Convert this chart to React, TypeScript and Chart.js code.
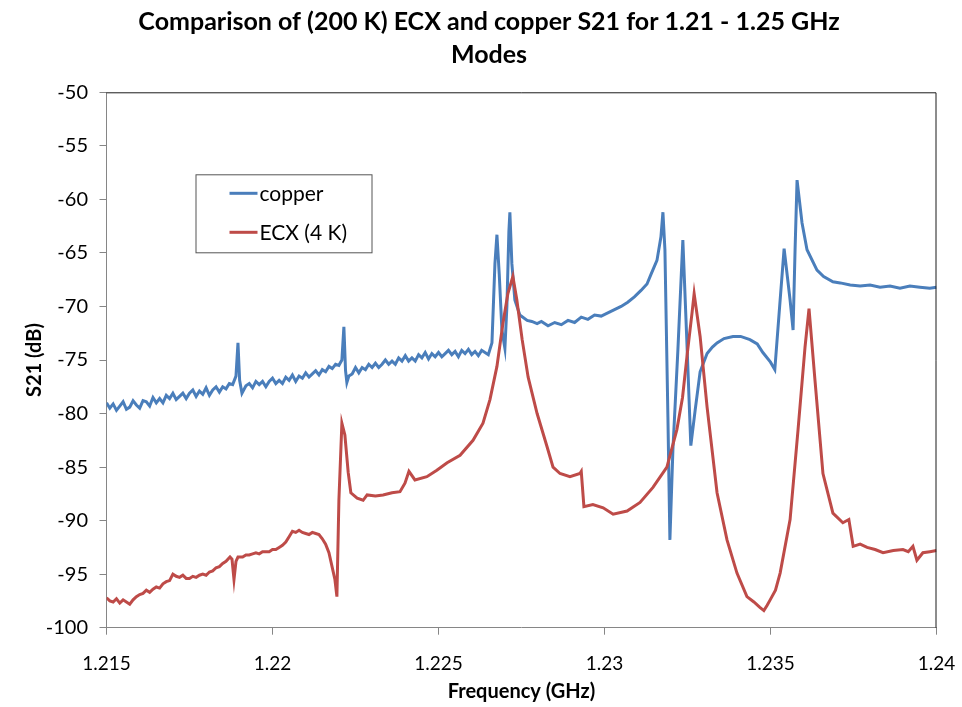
import React, { useEffect, useRef } from "react";
import { Chart, registerables } from "chart.js";

Chart.register(...registerables);

const titleLines = ["Comparison of (200 K) ECX and copper S21 for 1.21 - 1.25 GHz", "Modes"];
const xAxisTitle = "Frequency (GHz)";
const yAxisTitle = "S21 (dB)";
const seriesNames = ["copper", "ECX (4 K)"];
const seriesColors = ["#4A7EBB", "#BE4B48"];
const xTickValues = [1.215, 1.22, 1.225, 1.23, 1.235, 1.24];
const xTickLabels = ["1.215", "1.22", "1.225", "1.23", "1.235", "1.24"];
const yTickValues = [-100, -95, -90, -85, -80, -75, -70, -65, -60, -55, -50];

const copperFreq = [
  1.2150, 1.2151, 1.2152, 1.2153, 1.2154, 1.2155, 1.2156, 1.2157, 1.2158, 1.2159,
  1.2160, 1.2161, 1.2162, 1.2163, 1.2164, 1.2165, 1.2166, 1.2167, 1.2168, 1.2169,
  1.2170, 1.2171, 1.2172, 1.2173, 1.2174, 1.2175, 1.2176, 1.2177, 1.2178, 1.2179,
  1.2180, 1.2181, 1.2182, 1.2183, 1.2184, 1.2185, 1.2186, 1.2187, 1.2188, 1.21890,
  1.21896, 1.21901, 1.21908, 1.2192, 1.2193, 1.2194, 1.2195, 1.2196, 1.2197, 1.2198,
  1.2199, 1.2200, 1.2201, 1.2202, 1.2203, 1.2204, 1.2205, 1.2206, 1.2207, 1.2208,
  1.2209, 1.2210, 1.2211, 1.2212, 1.2213, 1.2214, 1.2215, 1.2216, 1.2217, 1.2218,
  1.2219, 1.2220, 1.22209, 1.22215, 1.22220, 1.22224, 1.2223, 1.2224, 1.2225, 1.2226,
  1.2227, 1.2228, 1.2229, 1.2230, 1.2231, 1.2232, 1.2233, 1.2234, 1.2235, 1.2236,
  1.2237, 1.2238, 1.2239, 1.2240, 1.2241, 1.2242, 1.2243, 1.2244, 1.2245, 1.2246,
  1.2247, 1.2248, 1.2249, 1.2250, 1.2251, 1.2252, 1.2253, 1.2254, 1.2255, 1.2256,
  1.2257, 1.2258, 1.2259, 1.2260, 1.2261, 1.2262, 1.2263, 1.2264, 1.2265,
  1.22661, 1.22670, 1.22676, 1.22683, 1.22691, 1.22700, 1.22706, 1.22712, 1.22715, 1.22721,
  1.22730, 1.22745, 1.22767, 1.22781, 1.22797, 1.2281, 1.2283, 1.2285, 1.2287, 1.2289,
  1.2291, 1.2293, 1.2295, 1.2297, 1.2299, 1.2301, 1.2303, 1.2305, 1.2307, 1.2309,
  1.2311, 1.23128, 1.2314, 1.23158, 1.2317, 1.23176,
  1.23182, 1.23191, 1.23197, 1.23206, 1.23221, 1.23236, 1.23249, 1.23260, 1.23273, 1.23288,
  1.23309, 1.23325, 1.23339, 1.2336, 1.23387, 1.2341, 1.23438, 1.2346, 1.23477, 1.2350, 1.23513,
  1.23529, 1.23541, 1.23559, 1.23568, 1.23574, 1.23580, 1.23595, 1.2361, 1.2364, 1.2366,
  1.23688, 1.2371, 1.2374, 1.2377, 1.2380, 1.2383, 1.2386, 1.2389, 1.2392, 1.2395,
  1.2398, 1.2400,
];
const copperS21 = [
  -79.0, -79.5, -79.1, -79.7, -79.3, -78.9, -79.6, -79.4, -78.8, -79.2,
  -79.5, -78.8, -78.9, -79.3, -78.5, -79.0, -78.6, -79.0, -78.3, -78.6,
  -78.1, -78.7, -78.4, -78.1, -78.6, -78.1, -77.8, -78.4, -77.9, -78.2,
  -77.6, -78.3, -77.8, -77.5, -78.0, -77.5, -77.7, -77.2, -77.3, -76.5,
  -73.4, -76.9, -78.1, -77.4, -77.2, -77.6, -77.0, -77.3, -77.0, -77.5,
  -77.0, -76.7, -77.2, -76.9, -77.2, -76.6, -76.9, -76.4, -77.0, -76.5,
  -76.7, -76.2, -76.6, -76.3, -76.0, -76.4, -75.9, -76.1, -75.6, -75.8,
  -75.4, -75.5, -75.0, -71.9, -76.0, -77.1, -76.5, -76.3, -75.7, -76.2,
  -75.7, -75.9, -75.4, -75.7, -75.3, -75.7, -75.4, -75.0, -75.4, -75.1,
  -75.4, -74.8, -75.1, -74.6, -75.1, -74.8, -75.1, -74.5, -74.8, -74.3,
  -74.9, -74.4, -74.7, -74.3, -74.7, -74.4, -74.1, -74.5, -74.2, -74.7,
  -74.1, -74.4, -74.0, -74.5, -74.2, -74.6, -74.1, -74.3, -74.5,
  -73.4, -66.0, -63.3, -67.0, -72.2, -73.9, -70.0, -63.0, -61.2, -66.0,
  -69.4, -70.8, -71.3, -71.4, -71.6, -71.4, -71.8, -71.5, -71.7, -71.3,
  -71.5, -71.0, -71.2, -70.8, -70.9, -70.6, -70.3, -70.0, -69.6, -69.1,
  -68.5, -67.9, -67.0, -65.7, -63.5, -61.2,
  -64.7, -80.3, -91.8, -83.4, -74.1, -63.8, -74.0, -83.0, -79.7, -76.1,
  -74.4, -73.8, -73.4, -73.0, -72.8, -72.8, -73.1, -73.5, -74.3, -75.2, -75.9,
  -69.4, -64.6, -69.4, -72.2, -64.7, -58.2, -62.2, -64.7, -66.6, -67.2,
  -67.7, -67.8, -68.0, -68.1, -68.0, -68.2, -68.1, -68.3, -68.1, -68.2,
  -68.3, -68.2,
];

const ecxFreq = [
  1.2150, 1.2151, 1.2152, 1.2153, 1.2154, 1.2155, 1.2156, 1.2157, 1.2158, 1.2159,
  1.2160, 1.2161, 1.2162, 1.2163, 1.2164, 1.2165, 1.2166, 1.2167, 1.2168, 1.2169,
  1.2170, 1.2171, 1.2172, 1.2173, 1.2174, 1.2175, 1.2176, 1.2177, 1.2178, 1.2179,
  1.2180, 1.2181, 1.2182, 1.2183, 1.2184, 1.2185, 1.2186, 1.21872, 1.21878, 1.21884,
  1.21890, 1.21896, 1.2191, 1.2192, 1.2193, 1.2194, 1.2195, 1.2196, 1.2197, 1.2198,
  1.2199, 1.2200, 1.2201, 1.2202, 1.2203, 1.2204, 1.2205, 1.2206, 1.2207, 1.2208,
  1.2209, 1.2210, 1.2211, 1.2212, 1.2213, 1.2214, 1.2215, 1.2216, 1.2217, 1.22188,
  1.22194, 1.22200, 1.22209, 1.22218, 1.22228, 1.22236, 1.22255, 1.22273,
  1.22285, 1.22310, 1.22333, 1.22360, 1.22384, 1.22399, 1.22411, 1.22429, 1.22465, 1.22495,
  1.22526, 1.22565, 1.22604, 1.22634, 1.22655, 1.22676, 1.22694, 1.22709, 1.22724, 1.22736,
  1.22752, 1.22770, 1.22797, 1.22827, 1.22845, 1.22866, 1.22896, 1.22926, 1.22930, 1.22938,
  1.22965, 1.22996, 1.23026, 1.23068, 1.23107, 1.23146, 1.23188, 1.23218, 1.23235, 1.23249,
  1.23264, 1.23270, 1.23288, 1.23309, 1.23339, 1.23369, 1.23399, 1.23429, 1.23450, 1.23468,
  1.23480, 1.23490, 1.23499, 1.23515, 1.23529, 1.23559, 1.23583, 1.23604, 1.23616, 1.23634,
  1.23658, 1.23688, 1.23718, 1.23736, 1.23749, 1.23770, 1.23791, 1.23815, 1.23839, 1.23870,
  1.23899, 1.23915, 1.23929, 1.23941, 1.23959, 1.23980, 1.24000,
];
const ecxS21 = [
  -97.2, -97.5, -97.6, -97.3, -97.7, -97.4, -97.6, -97.8, -97.4, -97.1,
  -96.9, -96.8, -96.5, -96.7, -96.4, -96.2, -96.3, -95.9, -95.7, -95.6,
  -95.0, -95.2, -95.3, -95.1, -95.4, -95.4, -95.2, -95.3, -95.1, -95.0,
  -95.1, -94.8, -94.7, -94.4, -94.3, -94.0, -93.8, -93.4, -93.6, -95.5,
  -93.8, -93.4, -93.4, -93.2, -93.2, -93.1, -93.0, -93.1, -92.9, -92.9,
  -92.9, -92.7, -92.7, -92.5, -92.3, -92.0, -91.5, -91.0, -91.1, -90.9,
  -91.1, -91.2, -91.3, -91.1, -91.2, -91.3, -91.7, -92.2, -93.0, -95.5,
  -97.1, -88.1, -80.9, -82.0, -85.5, -87.4, -87.9, -88.1,
  -87.6, -87.7, -87.6, -87.4, -87.3, -86.5, -85.4, -86.2, -85.9, -85.3,
  -84.6, -83.9, -82.5, -80.9, -78.7, -75.6, -71.6, -68.8, -67.2, -69.4,
  -73.1, -76.6, -80.0, -83.1, -85.0, -85.6, -85.9, -85.6, -85.4, -88.7,
  -88.5, -88.8, -89.4, -89.1, -88.3, -86.9, -85.0, -81.5, -78.5, -74.5,
  -70.5, -68.8, -72.8, -79.4, -87.4, -91.8, -94.9, -97.1, -97.6, -98.1,
  -98.4, -97.9, -97.4, -96.5, -94.9, -89.9, -81.5, -73.8, -70.2, -76.9,
  -85.6, -89.3, -90.2, -89.9, -92.4, -92.2, -92.5, -92.7, -93.0, -92.8,
  -92.7, -92.9, -92.4, -93.7, -93.0, -92.9, -92.8,
];

const FONT = "Lato, 'Open Sans', sans-serif";

const titleAndLegend = {
  id: "titleAndLegend",
  afterDraw(chart: any) {
    const { ctx, chartArea } = chart;
    ctx.save();
    // chart title
    ctx.fillStyle = "#000";
    ctx.font = "bold 25px " + FONT;
    ctx.textAlign = "center";
    ctx.textBaseline = "middle";
    titleLines.forEach((line, i) => ctx.fillText(line, 489, 22 + i * 33));

    // plot-area frame (top and right edges)
    ctx.strokeStyle = "#1a1a1a";
    ctx.lineWidth = 1;
    ctx.beginPath();
    ctx.moveTo(chartArea.left, chartArea.top + 0.5);
    ctx.lineTo(chartArea.right - 0.5, chartArea.top + 0.5);
    ctx.lineTo(chartArea.right - 0.5, chartArea.bottom);
    ctx.stroke();

    // legend box
    const bx = chartArea.left + 89;
    const by = chartArea.top + 82;
    const bw = 176;
    const bh = 78;
    ctx.fillStyle = "#ffffff";
    ctx.fillRect(bx, by, bw, bh);
    ctx.strokeStyle = "#555555";
    ctx.lineWidth = 1;
    ctx.strokeRect(bx + 0.5, by + 0.5, bw, bh);
    ctx.font = "21px " + FONT;
    ctx.textBaseline = "middle";
    ctx.textAlign = "left";
    chart.data.datasets.forEach((ds: any, i: number) => {
      const y = by + 19 + i * 39;
      ctx.strokeStyle = ds.borderColor;
      ctx.lineWidth = 3;
      ctx.beginPath();
      ctx.moveTo(bx + 34, y);
      ctx.lineTo(bx + 62, y);
      ctx.stroke();
      ctx.fillStyle = "#000";
      ctx.fillText(ds.label, bx + 64, y + 1);
    });
    ctx.restore();
  },
};

export default function App() {
  const ref = useRef<HTMLCanvasElement | null>(null);
  useEffect(() => {
    if (!ref.current) return;
    const copper = copperFreq.map((f, i) => ({ x: f, y: copperS21[i] }));
    const ecx = ecxFreq.map((f, i) => ({ x: f, y: ecxS21[i] }));
    const chart = new Chart(ref.current, {
      type: "line",
      data: {
        datasets: [
          {
            label: seriesNames[0],
            data: copper,
            borderColor: seriesColors[0],
            backgroundColor: seriesColors[0],
            borderWidth: 3,
            pointRadius: 0,
            tension: 0,
            order: 2,
          },
          {
            label: seriesNames[1],
            data: ecx,
            borderColor: seriesColors[1],
            backgroundColor: seriesColors[1],
            borderWidth: 3,
            pointRadius: 0,
            tension: 0,
            order: 1,
          },
        ],
      },
      options: {
        animation: false,
        responsive: false,
        maintainAspectRatio: false,
        layout: { autoPadding: false, padding: { left: 0, right: 25.5, top: 92.3, bottom: 0 } },
        plugins: {
          legend: { display: false },
          tooltip: { enabled: false },
          title: { display: false },
        },
        scales: {
          x: {
            type: "linear",
            min: 1.215,
            max: 1.24,
            afterBuildTicks: (scale: any) => {
              scale.ticks = xTickValues.map((v) => ({ value: v }));
            },
            afterFit: (scale: any) => {
              scale.height = 79.3;
              scale.paddingLeft = 0;
              scale.paddingRight = 0;
            },
            ticks: {
              color: "#000",
              font: { family: FONT, size: 19 },
              padding: 18,
              maxRotation: 0,
              autoSkip: false,
              callback: (v: any) => {
                const idx = xTickValues.findIndex((t) => Math.abs(t - v) < 1e-9);
                return idx >= 0 ? xTickLabels[idx] : "";
              },
            },
            grid: { drawOnChartArea: false, drawTicks: true, tickLength: 7, color: "#868686" },
            border: { display: true, color: "#868686", width: 1 },
            title: {
              display: true,
              text: xAxisTitle,
              color: "#000",
              font: { family: FONT, size: 20, weight: "bold" },
              padding: { top: 0, bottom: 3 },
            },
          },
          y: {
            type: "linear",
            min: -100,
            max: -50,
            afterBuildTicks: (scale: any) => {
              scale.ticks = yTickValues.map((v) => ({ value: v }));
            },
            afterFit: (scale: any) => {
              scale.width = 106.5;
              scale.paddingTop = 0;
              scale.paddingBottom = 0;
            },
            ticks: {
              color: "#000",
              font: { family: FONT, size: 20 },
              padding: 11.5,
              autoSkip: false,
              callback: (v: any) => String(v),
            },
            grid: { drawOnChartArea: false, drawTicks: true, tickLength: 7, color: "#868686" },
            border: { display: true, color: "#868686", width: 1 },
            title: {
              display: true,
              text: yAxisTitle,
              color: "#000",
              font: { family: FONT, size: 20, weight: "bold" },
              padding: { top: 23, bottom: 0 },
            },
          },
        },
      },
      plugins: [titleAndLegend],
    } as any);
    return () => chart.destroy();
  }, []);

  return (
    <div style={{ position: "absolute", left: 0, top: 0, width: 962, height: 707, background: "#fff" }}>
      <canvas ref={ref} width={962} height={707} style={{ width: 962, height: 707, display: "block" }} />
    </div>
  );
}
